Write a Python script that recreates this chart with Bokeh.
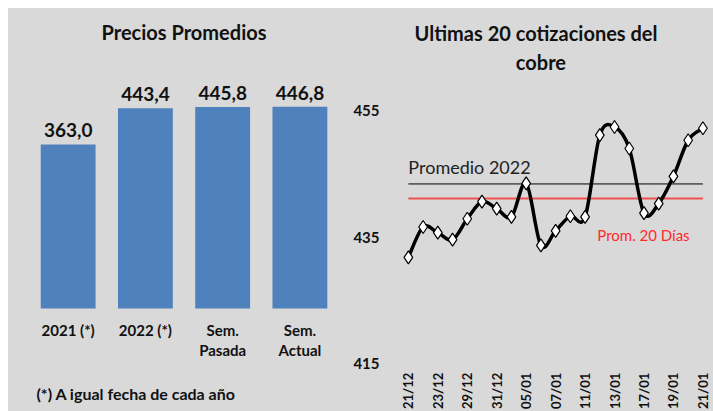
import math
from bokeh.plotting import figure
from bokeh.layouts import row, column
from bokeh.models import Range1d, FixedTicker, ColumnDataSource, Label, Spacer
from bokeh.core.properties import value
from bokeh.embed import file_html
from bokeh.resources import INLINE

# ---------------- data ----------------
bar_categories = ["2021 (*)", "2022 (*)", "Sem.\nPasada", "Sem.\nActual"]
bar_values = [363.0, 443.4, 445.8, 446.8]

dates = ["21/12", "22/12", "23/12", "28/12", "29/12", "30/12", "31/12", "04/01",
         "05/01", "06/01", "07/01", "10/01", "11/01", "12/01", "13/01", "14/01",
         "17/01", "18/01", "19/01", "20/01", "21/01"]
prices = [431.8, 436.6, 435.7, 434.6, 437.9, 440.6, 439.5, 438.2, 443.5, 433.7,
          436.0, 438.3, 438.2, 451.1, 452.4, 449.0, 438.8, 440.3, 444.6, 450.3, 452.2]
promedio_2022 = 443.4
promedio_20_dias = 441.1
y_ticks = [415, 435, 455]

BG = "#d9d9d9"
FONT = "Lato"
BLUE = "#4f81bd"
INK = "#111111"

# ---------------- left: bar chart ----------------
left = figure(width=342, height=403, output_backend="svg", toolbar_location=None,
              x_range=Range1d(-0.772, 3.655), y_range=Range1d(-228.0, 664.0),
              min_border=0)
left.background_fill_color = BG
left.border_fill_color = BG
left.outline_line_color = None
left.grid.visible = False
left.axis.visible = False

xs = list(range(len(bar_values)))
line1 = [c.split("\n")[0] for c in bar_categories]
line2 = [c.split("\n")[1] if "\n" in c else "" for c in bar_categories]
src = ColumnDataSource(dict(x=xs, top=bar_values, zero=[0] * len(xs), l1=line1, l2=line2,
                            lbl=[f"{v:.1f}".replace(".", ",") for v in bar_values]))
left.vbar(x="x", top="top", bottom=0, width=0.71, source=src,
          fill_color=BLUE, line_color=None)
left.text(x="x", y="top", text="lbl", source=src, text_align="center",
          text_baseline="bottom", y_offset=-7, text_font=value(FONT),
          text_font_style="bold", text_font_size="19px", text_color=INK)
# category labels under the bars
left.text(x="x", y="zero", text="l1", source=src, text_align="center",
          text_baseline="middle", y_offset=22, text_font=value(FONT),
          text_font_style="bold", text_font_size="15px", text_color=INK)
left.text(x="x", y="zero", text="l2", source=src, text_align="center",
          text_baseline="middle", y_offset=42, text_font=value(FONT),
          text_font_style="bold", text_font_size="15px", text_color=INK)

left.add_layout(Label(x=1.5, y=611, text="Precios Promedios", text_align="center",
                      text_baseline="middle", text_font=FONT, text_font_style="bold",
                      text_font_size="20px", text_color=INK))
left.add_layout(Label(x=-0.41, y=-188, text="(*) A igual fecha de cada año",
                      text_align="left", text_baseline="middle", text_font=FONT,
                      text_font_style="bold", text_font_size="16px", text_color=INK))

# ---------------- right: line chart ----------------
n = len(prices)
idx = list(range(n))
right = figure(width=363, height=403, output_backend="svg", toolbar_location=None,
               x_range=Range1d(-1.01, 20.72), y_range=Range1d(407.46, 471.11),
               min_border_left=40, min_border_right=0, min_border_top=0,
               min_border_bottom=0)
right.background_fill_color = BG
right.border_fill_color = BG
right.outline_line_color = None
right.grid.visible = False
right.xaxis.visible = False

right.line(x=[0, n - 1], y=[promedio_2022] * 2, line_color="black", line_width=1)
right.line(x=[0, n - 1], y=[promedio_20_dias] * 2, line_color="#f05050", line_width=2)

# smoothed line (Catmull-Rom -> cubic Bezier through the data points)
x0, y0, x1, y1, cx0, cy0, cx1, cy1 = [], [], [], [], [], [], [], []
for i in range(n - 1):
    pm = max(i - 1, 0)
    pp = min(i + 2, n - 1)
    x0.append(idx[i]); y0.append(prices[i])
    x1.append(idx[i + 1]); y1.append(prices[i + 1])
    cx0.append(idx[i] + (idx[i + 1] - idx[pm]) / 6)
    cy0.append(prices[i] + (prices[i + 1] - prices[pm]) / 6)
    cx1.append(idx[i + 1] - (idx[pp] - idx[i]) / 6)
    cy1.append(prices[i + 1] - (prices[pp] - prices[i]) / 6)
right.bezier(x0=x0, y0=y0, x1=x1, y1=y1, cx0=cx0, cy0=cy0, cx1=cx1, cy1=cy1,
             line_color="black", line_width=3.5)
right.scatter(x=idx, y=prices, marker="diamond", size=13, fill_color="white",
              line_color="black", line_width=1.2)

# date labels (every other quotation), vertical, under the plot area
shown = idx[::2]
dsrc = ColumnDataSource(dict(x=shown, y=[y_ticks[0]] * len(shown),
                             t=[dates[i] for i in shown]))
right.text(x="x", y="y", text="t", source=dsrc, angle=math.pi / 2,
           text_align="right", text_baseline="middle", y_offset=9,
           text_font=value(FONT), text_font_style="bold", text_font_size="13px",
           text_color=INK)

right.add_layout(Label(x=0, y=446.0, text="Promedio 2022", text_align="left",
                       text_baseline="middle", text_font=FONT, text_font_size="18px",
                       text_color="#222222"))
right.add_layout(Label(x=12.83, y=435.4, text="Prom.  20 Días", text_align="left",
                       text_baseline="middle", text_font=FONT, text_font_size="15px",
                       text_color="#ff2a2a"))
right.add_layout(Label(x=9.0, y=467.2, text="Ultimas  20 cotizaciones  del",
                       text_align="center", text_baseline="middle", text_font=FONT,
                       text_font_style="bold", text_font_size="20px", text_color=INK))
right.add_layout(Label(x=9.0, y=462.6, text="cobre",
                       text_align="center", text_baseline="middle", text_font=FONT,
                       text_font_style="bold", text_font_size="20px", text_color=INK))

ya = right.yaxis[0]
ya.ticker = FixedTicker(ticks=y_ticks)
ya.axis_line_color = None
ya.major_tick_line_color = None
ya.minor_tick_line_color = None
ya.major_label_standoff = 8
ya.major_label_text_font = FONT
ya.major_label_text_font_style = "bold"
ya.major_label_text_font_size = "15px"
ya.major_label_text_color = INK

panels = row(left, right, spacing=0, styles={"background-color": BG})
layout = column(Spacer(width=713, height=8),
                row(Spacer(width=8, height=403), panels, spacing=0),
                spacing=0)
open("out.html", "w").write(file_html(layout, INLINE))
